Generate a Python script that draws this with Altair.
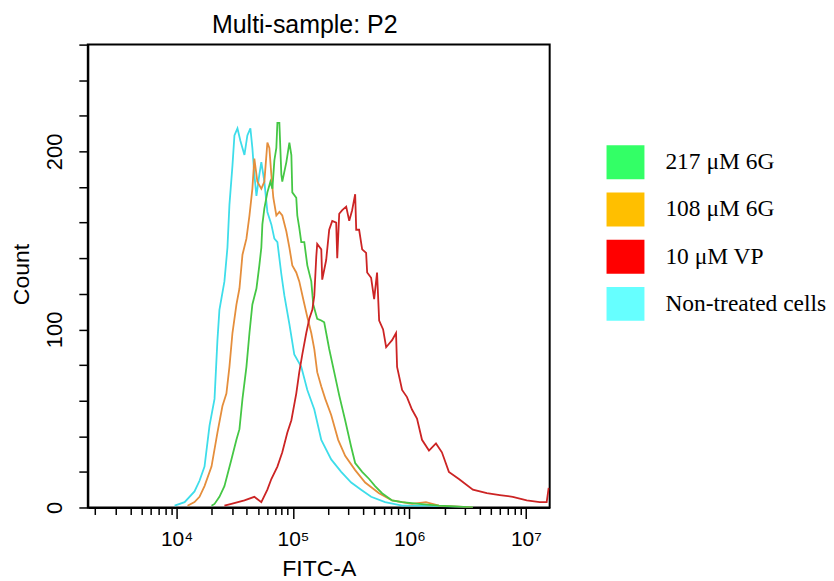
import altair as alt
import pandas as pd

series_names = ["217 μM 6G", "108 μM 6G", "10 μM VP", "Non-treated cells"]
legend_colors = ["#33FF66", "#FFBF00", "#FF0000", "#66FFFF"]
# drawing order of the traces (back to front) and their line colours
line_order = ["Non-treated cells", "108 μM 6G", "217 μM 6G", "10 μM VP"]
line_colors = ["#3EDDEA", "#E58E3C", "#45C745", "#CC2424"]

# log10(FITC-A) bin positions and counts
green_log = [4.300, 4.326, 4.368, 4.411, 4.471, 4.514, 4.540, 4.566, 4.600, 4.626,
             4.651, 4.686, 4.711, 4.728, 4.737, 4.754, 4.780, 4.806, 4.823, 4.840,
             4.857, 4.866, 4.883, 4.900, 4.908, 4.943, 4.969, 4.986, 4.994, 5.028,
             5.037, 5.054, 5.071, 5.097, 5.123, 5.157, 5.174, 5.208, 5.243, 5.268,
             5.311, 5.354, 5.397, 5.448, 5.500, 5.534, 5.594, 5.654, 5.705, 5.765,
             5.851, 5.937, 6.082, 6.254, 6.545]
green_count = [1, 2, 6, 12, 27, 38, 44, 61, 79, 98,
               114, 123, 136, 146, 159, 168, 177, 183, 179, 195,
               202, 216, 216, 187, 183, 194, 205, 198, 177, 174,
               164, 157, 149, 149, 136, 127, 114, 106, 105, 104,
               89, 76, 63, 49, 34, 25, 20, 16, 12, 8,
               4, 3, 2, 1, 0]

orange_log = [4.094, 4.154, 4.197, 4.240, 4.300, 4.351, 4.394, 4.428, 4.454, 4.480,
              4.514, 4.540, 4.566, 4.600, 4.626, 4.651, 4.668, 4.694, 4.728, 4.754,
              4.780, 4.797, 4.814, 4.831, 4.857, 4.883, 4.908, 4.943, 4.969, 4.994,
              5.028, 5.054, 5.088, 5.123, 5.157, 5.183, 5.208, 5.243, 5.277, 5.328,
              5.388, 5.448, 5.534, 5.620, 5.739, 5.851, 6.022, 6.142, 6.254, 6.545]
orange_count = [1, 3, 6, 12, 23, 42, 57, 64, 79, 98,
                114, 123, 142, 151, 164, 179, 196, 183, 179, 183,
                205, 202, 187, 174, 164, 166, 164, 155, 146, 136,
                132, 127, 117, 107, 98, 89, 76, 68, 61, 52,
                38, 29, 21, 14, 8, 4, 2, 3, 1, 0]

red_log = [4.411, 4.471, 4.583, 4.668, 4.728, 4.780, 4.814, 4.866, 4.908, 4.951,
           4.986, 5.028, 5.054, 5.080, 5.114, 5.140, 5.166, 5.183, 5.200, 5.208,
           5.243, 5.251, 5.285, 5.311, 5.337, 5.371, 5.380, 5.397, 5.423, 5.457,
           5.483, 5.508, 5.534, 5.543, 5.568, 5.594, 5.628, 5.637, 5.671, 5.697,
           5.722, 5.740, 5.774, 5.800, 5.825, 5.851, 5.885, 5.894, 5.937, 5.979,
           6.022, 6.065, 6.108, 6.168, 6.228, 6.279, 6.339, 6.425, 6.545, 6.665,
           6.776, 6.888, 7.008, 7.119, 7.179, 7.196]
red_count = [1, 2, 4, 6, 3, 10, 16, 23, 31, 42,
             49, 64, 76, 86, 98, 106, 111, 119, 141, 148,
             145, 128, 139, 156, 161, 160, 140, 165, 167, 169,
             161, 167, 176, 156, 156, 145, 143, 132, 129, 117,
             132, 105, 100, 90, 92, 94, 98, 79, 66, 62,
             55, 50, 38, 32, 36, 31, 20, 16, 10, 8,
             7, 6, 4, 3, 3, 11]

cyan_log = [3.983, 4.069, 4.154, 4.197, 4.240, 4.283, 4.326, 4.351, 4.368, 4.411,
            4.437, 4.454, 4.480, 4.497, 4.523, 4.548, 4.583, 4.608, 4.634, 4.651,
            4.668, 4.686, 4.711, 4.728, 4.754, 4.780, 4.814, 4.840, 4.866, 4.900,
            4.926, 4.969, 5.011, 5.071, 5.123, 5.183, 5.243, 5.328, 5.414, 5.500,
            5.585, 5.671, 5.791, 5.937, 6.168, 6.545]
cyan_count = [1, 3, 9, 15, 23, 46, 61, 94, 111, 127,
              146, 170, 192, 209, 213, 206, 198, 209, 213, 202,
              187, 175, 187, 194, 183, 166, 159, 151, 149, 131,
              119, 103, 86, 79, 66, 55, 38, 27, 20, 14,
              10, 6, 3, 1, 1, 0]

x_domain = [1728, 16020000]
y_domain = [0, 260]
x_ticks = [m * 10 ** e for e in range(3, 8) for m in range(1, 10)
           if x_domain[0] <= m * 10 ** e <= x_domain[1]]
major_ticks = [10 ** 4, 10 ** 5, 10 ** 6, 10 ** 7]
y_ticks = list(range(0, 261, 20))

frames = []
for name, logs, counts in [
    (series_names[3], cyan_log, cyan_count),
    (series_names[1], orange_log, orange_count),
    (series_names[0], green_log, green_count),
    (series_names[2], red_log, red_count),
]:
    d = pd.DataFrame({"log": logs, "count": counts})
    d["fitc"] = 10 ** d["log"]
    d["series"] = name
    frames.append(d)
df = pd.concat(frames, ignore_index=True)
df["sample"] = df["series"]

major_test = "indexof([" + ",".join(str(v) for v in major_ticks) + "], datum.value) >= 0"
x_label_expr = ("datum.value == 10000 ? '10⁴' : datum.value == 100000 ? '10⁵' : "
                "datum.value == 1000000 ? '10⁶' : datum.value == 10000000 ? '10⁷' : ''")

x_enc = alt.X(
    "fitc:Q",
    scale=alt.Scale(type="log", domain=x_domain, nice=False),
    axis=alt.Axis(
        values=x_ticks,
        labelExpr=x_label_expr,
        tickSize={"condition": {"test": major_test, "value": 11}, "value": 7},
        labelFontSize=21,
        labelPadding=27,
        labelBaseline="alphabetic",
        titleY=68,
        titleBaseline="alphabetic",
        titleFontSize=23,
    ),
    title="FITC-A",
)
y_enc = alt.Y(
    "count:Q",
    scale=alt.Scale(domain=y_domain, nice=False),
    axis=alt.Axis(
        values=y_ticks,
        labelExpr="datum.value % 100 == 0 ? datum.label : ''",
        tickSize=9,
        labelAngle=-90,
        labelAlign="center",
        labelBaseline="alphabetic",
        labelPadding=17,
        labelFontSize=22,
        titleX=-66,
        titleY=230,
        titleAngle=-90,
        titleAlign="center",
        titleBaseline="middle",
        titleFontSize=23,
    ),
    title="Count",
)

lines = alt.Chart(df).mark_line(clip=True, strokeWidth=1.8).encode(
    x=x_enc,
    y=y_enc,
    stroke=alt.Stroke("series:N", scale=alt.Scale(domain=line_order, range=line_colors), legend=None),
    detail="series:N",
)

keys = alt.Chart(df).mark_square(size=0).encode(
    x=x_enc,
    y=y_enc,
    color=alt.Color(
        "sample:N",
        scale=alt.Scale(domain=series_names, range=legend_colors),
        legend=alt.Legend(
            title=None,
            orient="none",
            legendX=520,
            legendY=99,
            symbolType="M-1,-0.895H1V0.895H-1Z",
            symbolSize=1444,
            symbolStrokeWidth=0,
            symbolOpacity=1,
            labelFont="Liberation Serif",
            labelFontSize=23.5,
            labelColor="black",
            labelOffset=21,
            labelLimit=400,
            rowPadding=10.3,
        ),
    ),
)

chart = (
    alt.layer(lines, keys)
    .properties(
        width=463,
        height=464,
        title=alt.Title(
            text="Multi-sample: P2",
            font="Liberation Sans",
            fontSize=25,
            fontWeight="normal",
            color="black",
            anchor="middle",
            frame="group",
            dx=-14,
            offset=6,
        ),
        autosize=alt.AutoSizeParams(type="none"),
        padding={"left": 80, "top": 36, "right": 277, "bottom": 73},
    )
    .configure_view(stroke="black", strokeWidth=2)
    .configure_axis(
        grid=False,
        domainColor="black",
        domainWidth=2,
        tickColor="black",
        tickWidth=1.5,
        labelColor="black",
        titleColor="black",
        labelFont="Liberation Sans",
        titleFont="Liberation Sans",
        titleFontWeight="normal",
    )
)

chart.save("out.html", embed_options={"renderer": "svg", "actions": False})
